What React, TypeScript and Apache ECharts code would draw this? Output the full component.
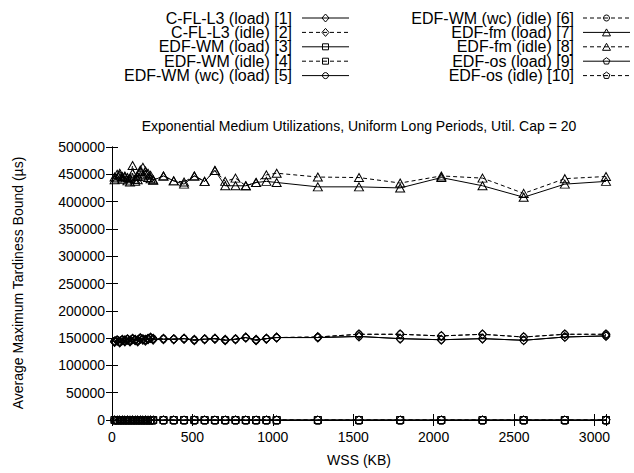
import React, { useEffect, useRef } from "react";
import * as echarts from "echarts";

// Working-set sizes (KB)
const wss = [
  16, 32, 48, 64, 80, 96, 112, 128, 144, 160, 176, 192, 208, 224, 240, 256,
  320, 384, 448, 512, 576, 640, 704, 768, 832, 896, 960, 1024,
  1280, 1536, 1792, 2048, 2304, 2560, 2816, 3072,
];

// Average maximum tardiness bound (µs) per scheduler
const cfl3Load = [
  143000, 145000, 142000, 146000, 144000, 147000, 145000, 148000, 146000, 144000, 149000, 147000, 145000, 148000, 150000, 147000,
  148000, 148000, 149000, 146000, 148000, 149000, 146000, 148000, 151000, 146000, 149000, 151000,
  151000, 153000, 149000, 147000, 149000, 146000, 152000, 154000,
];
const cfl3Idle = [
  144000, 146000, 143000, 147000, 146000, 148000, 144000, 149000, 147000, 146000, 150000, 148000, 147000, 149000, 151000, 149000,
  149000, 148000, 149000, 147000, 148000, 149000, 147000, 148000, 151000, 147000, 149000, 151000,
  152000, 157000, 157000, 154000, 157000, 152000, 157000, 157000,
];
const edfWmLoad = [
  0, 0, 0, 0, 0, 0, 0, 0, 0, 0, 0, 0, 0, 0, 0, 0,
  0, 0, 0, 0, 0, 0, 0, 0, 0, 0, 0, 0,
  0, 0, 0, 0, 0, 0, 0, 0,
];
const edfWmIdle = [
  0, 0, 0, 0, 0, 0, 0, 0, 0, 0, 0, 0, 0, 0, 0, 0,
  0, 0, 0, 0, 0, 0, 0, 0, 0, 0, 0, 0,
  0, 0, 0, 0, 0, 0, 0, 0,
];
const edfWmWcLoad = [
  144000, 146000, 143000, 147000, 145000, 148000, 146000, 148000, 147000, 145000, 149000, 148000, 146000, 149000, 150000, 148000,
  148000, 148000, 149000, 146000, 148000, 149000, 146000, 148000, 151000, 146000, 149000, 151000,
  151000, 153000, 149000, 147000, 149000, 146000, 152000, 154000,
];
const edfWmWcIdle = [
  145000, 147000, 144000, 147000, 146000, 148000, 145000, 149000, 147000, 146000, 150000, 148000, 147000, 149000, 151000, 149000,
  149000, 148000, 149000, 147000, 148000, 149000, 147000, 148000, 151000, 147000, 149000, 151000,
  152000, 157000, 157000, 154000, 157000, 152000, 157000, 157000,
];
const edfFmLoad = [
  440000, 443000, 448000, 441000, 445000, 438000, 436000, 452000, 437000, 440000, 455000, 447000, 450000, 444000, 442000, 439000,
  447000, 438000, 432000, 447000, 437000, 457000, 429000, 429000, 429000, 435000, 437000, 435000,
  427000, 427000, 425000, 444000, 429000, 408000, 432000, 437000,
];
const edfFmIdle = [
  445000, 450000, 452000, 446000, 447000, 444000, 442000, 466000, 441000, 446000, 458000, 463000, 456000, 452000, 448000, 440000,
  447000, 438000, 436000, 447000, 437000, 457000, 437000, 443000, 429000, 435000, 449000, 452000,
  445000, 444000, 434000, 447000, 443000, 415000, 442000, 446000,
];
const edfOsLoad = [
  0, 0, 0, 0, 0, 0, 0, 0, 0, 0, 0, 0, 0, 0, 0, 0,
  0, 0, 0, 0, 0, 0, 0, 0, 0, 0, 0, 0,
  0, 0, 0, 0, 0, 0, 0, 0,
];
const edfOsIdle = [
  0, 0, 0, 0, 0, 0, 0, 0, 0, 0, 0, 0, 0, 0, 0, 0,
  0, 0, 0, 0, 0, 0, 0, 0, 0, 0, 0, 0,
  0, 0, 0, 0, 0, 0, 0, 0,
];

const seriesNames = [
  "C-FL-L3 (load) [1]",
  "C-FL-L3 (idle) [2]",
  "EDF-WM (load) [3]",
  "EDF-WM (idle) [4]",
  "EDF-WM (wc) (load) [5]",
  "EDF-WM (wc) (idle) [6]",
  "EDF-fm (load) [7]",
  "EDF-fm (idle) [8]",
  "EDF-os (load) [9]",
  "EDF-os (idle) [10]",
];
const seriesValues = [
  cfl3Load, cfl3Idle, edfWmLoad, edfWmIdle, edfWmWcLoad,
  edfWmWcIdle, edfFmLoad, edfFmIdle, edfOsLoad, edfOsIdle,
];
const seriesMarkers = [
  "diamond", "diamond", "square", "square", "circle",
  "circle", "triangle", "triangle", "pentagon", "pentagon",
];
const seriesDashed = [false, true, false, true, false, true, false, true, false, true];

const xTicks = [0, 500, 1000, 1500, 2000, 2500, 3000];

const FONT = "'Liberation Sans', Arial, Helvetica, sans-serif";
const INK = "#000";
const KEY_SIZE = 16;
const LABEL_SIZE = 14;

const PENTAGON_PATH =
  "path://M0,-1L0.951,-0.309L0.588,0.809L-0.588,0.809L-0.951,-0.309Z";

function symbolFor(kind: string): { symbol: string; size: number | number[] } {
  switch (kind) {
    case "diamond":
      return { symbol: "diamond", size: [8, 9] };
    case "square":
      return { symbol: "rect", size: 7 };
    case "circle":
      return { symbol: "circle", size: 7 };
    case "triangle":
      return { symbol: "triangle", size: [9, 8] };
    default:
      return { symbol: PENTAGON_PATH, size: 8 };
  }
}

function legendMarker(kind: string, cx: number, cy: number): any {
  const style = { fill: "none", stroke: INK, lineWidth: 1 };
  if (kind === "diamond") {
    return { type: "polygon", shape: { points: [[cx, cy - 4], [cx + 3.5, cy], [cx, cy + 4], [cx - 3.5, cy]] }, style };
  }
  if (kind === "square") {
    return { type: "rect", shape: { x: cx - 3, y: cy - 3, width: 6, height: 6 }, style };
  }
  if (kind === "circle") {
    return { type: "circle", shape: { cx, cy, r: 3 }, style };
  }
  if (kind === "triangle") {
    return { type: "polygon", shape: { points: [[cx, cy - 3.5], [cx + 4, cy + 3.5], [cx - 4, cy + 3.5]] }, style };
  }
  const pts: number[][] = [];
  for (let k = 0; k < 5; k++) {
    const a = -Math.PI / 2 + (k * 2 * Math.PI) / 5;
    pts.push([cx + 3.5 * Math.cos(a), cy + 3.5 * Math.sin(a)]);
  }
  return { type: "polygon", shape: { points: pts }, style };
}

function buildLegend(): any[] {
  const out: any[] = [];
  const rowsY = [18, 32.4, 46.8, 61.2, 75.6];
  const cols = [
    { textRight: 292, x0: 302, x1: 349 },
    { textRight: 574, x0: 583, x1: 630 },
  ];
  seriesNames.forEach((name, i) => {
    const col = cols[Math.floor(i / 5)];
    const y = rowsY[i % 5];
    out.push({
      type: "text",
      x: col.textRight,
      y,
      style: {
        text: name,
        font: `${KEY_SIZE}px ${FONT}`,
        lineHeight: 14,
        fill: INK,
        align: "right",
        verticalAlign: "middle",
      },
    });
    out.push({
      type: "line",
      shape: { x1: col.x0, y1: y, x2: col.x1, y2: y },
      style: { stroke: INK, lineWidth: 1, lineDash: seriesDashed[i] ? [4, 3] : null },
    });
    out.push(legendMarker(seriesMarkers[i], (col.x0 + col.x1) / 2, y));
  });
  return out;
}

export default function App() {
  const ref = useRef<HTMLDivElement>(null);

  useEffect(() => {
    if (!ref.current) return;
    document.body.style.margin = "0";
    const chart = echarts.init(ref.current, undefined, { renderer: "svg" });

    const series = seriesNames.map((name, i) => {
      const sym = symbolFor(seriesMarkers[i]);
      return {
        name,
        type: "line",
        xAxisIndex: 0,
        yAxisIndex: 0,
        data: wss.map((x, k) => [x, seriesValues[i][k]]),
        symbol: sym.symbol,
        symbolSize: sym.size,
        showSymbol: true,
        silent: true,
        lineStyle: { color: INK, width: 1, type: seriesDashed[i] ? [4, 3] : "solid" },
        itemStyle: { color: "rgba(0,0,0,0)", borderColor: INK, borderWidth: 1 },
      };
    });

    const tickLabel = (v: number) => (xTicks.includes(v) ? String(v) : "");

    chart.setOption({
      animation: false,
      backgroundColor: "#fff",
      textStyle: { fontFamily: FONT },
      grid: { left: 112, right: 28, top: 147, bottom: 53, containLabel: false },
      xAxis: [
        {
          type: "value",
          min: 0,
          max: 3072,
          interval: 500,
          position: "bottom",
          axisLine: { show: true, lineStyle: { color: INK, width: 1 } },
          axisTick: { show: true, inside: true, length: 6, lineStyle: { color: INK } },
          axisLabel: { color: INK, fontSize: LABEL_SIZE, fontFamily: FONT, margin: 10, formatter: tickLabel },
          splitLine: { show: false },
        },
        {
          type: "value",
          min: 0,
          max: 3072,
          interval: 500,
          position: "top",
          axisLine: { show: true, lineStyle: { color: INK, width: 1 } },
          axisTick: { show: true, inside: true, length: 6, lineStyle: { color: INK } },
          axisLabel: { show: false },
          splitLine: { show: false },
        },
      ],
      yAxis: [
        {
          type: "value",
          min: 0,
          max: 500000,
          interval: 50000,
          position: "left",
          axisLine: { show: true, lineStyle: { color: INK, width: 1 } },
          axisTick: { show: true, inside: true, length: 6, lineStyle: { color: INK } },
          axisLabel: { color: INK, fontSize: LABEL_SIZE, fontFamily: FONT, margin: 7, formatter: (v: number) => String(v) },
          splitLine: { show: false },
        },
        {
          type: "value",
          min: 0,
          max: 500000,
          interval: 50000,
          position: "right",
          axisLine: { show: true, lineStyle: { color: INK, width: 1 } },
          axisTick: { show: true, inside: true, length: 6, lineStyle: { color: INK } },
          axisLabel: { show: false },
          splitLine: { show: false },
        },
      ],
      series,
      graphic: [
        ...buildLegend(),
        {
          type: "text",
          x: 359,
          y: 126,
          style: {
            text: "Exponential Medium Utilizations, Uniform Long Periods, Util. Cap = 20",
            font: `${LABEL_SIZE}px ${FONT}`,
            fill: INK,
            align: "center",
            verticalAlign: "middle",
          },
        },
        {
          type: "text",
          x: 359,
          y: 460,
          style: {
            text: "WSS (KB)",
            font: `${LABEL_SIZE}px ${FONT}`,
            fill: INK,
            align: "center",
            verticalAlign: "middle",
          },
        },
        {
          type: "text",
          x: 18,
          y: 283,
          rotation: Math.PI / 2,
          style: {
            text: "Average Maximum Tardiness Bound (µs)",
            font: `${LABEL_SIZE}px ${FONT}`,
            fill: INK,
            align: "center",
            verticalAlign: "middle",
          },
        },
      ],
    });

    return () => chart.dispose();
  }, []);

  return <div ref={ref} style={{ width: 634, height: 473 }} />;
}
